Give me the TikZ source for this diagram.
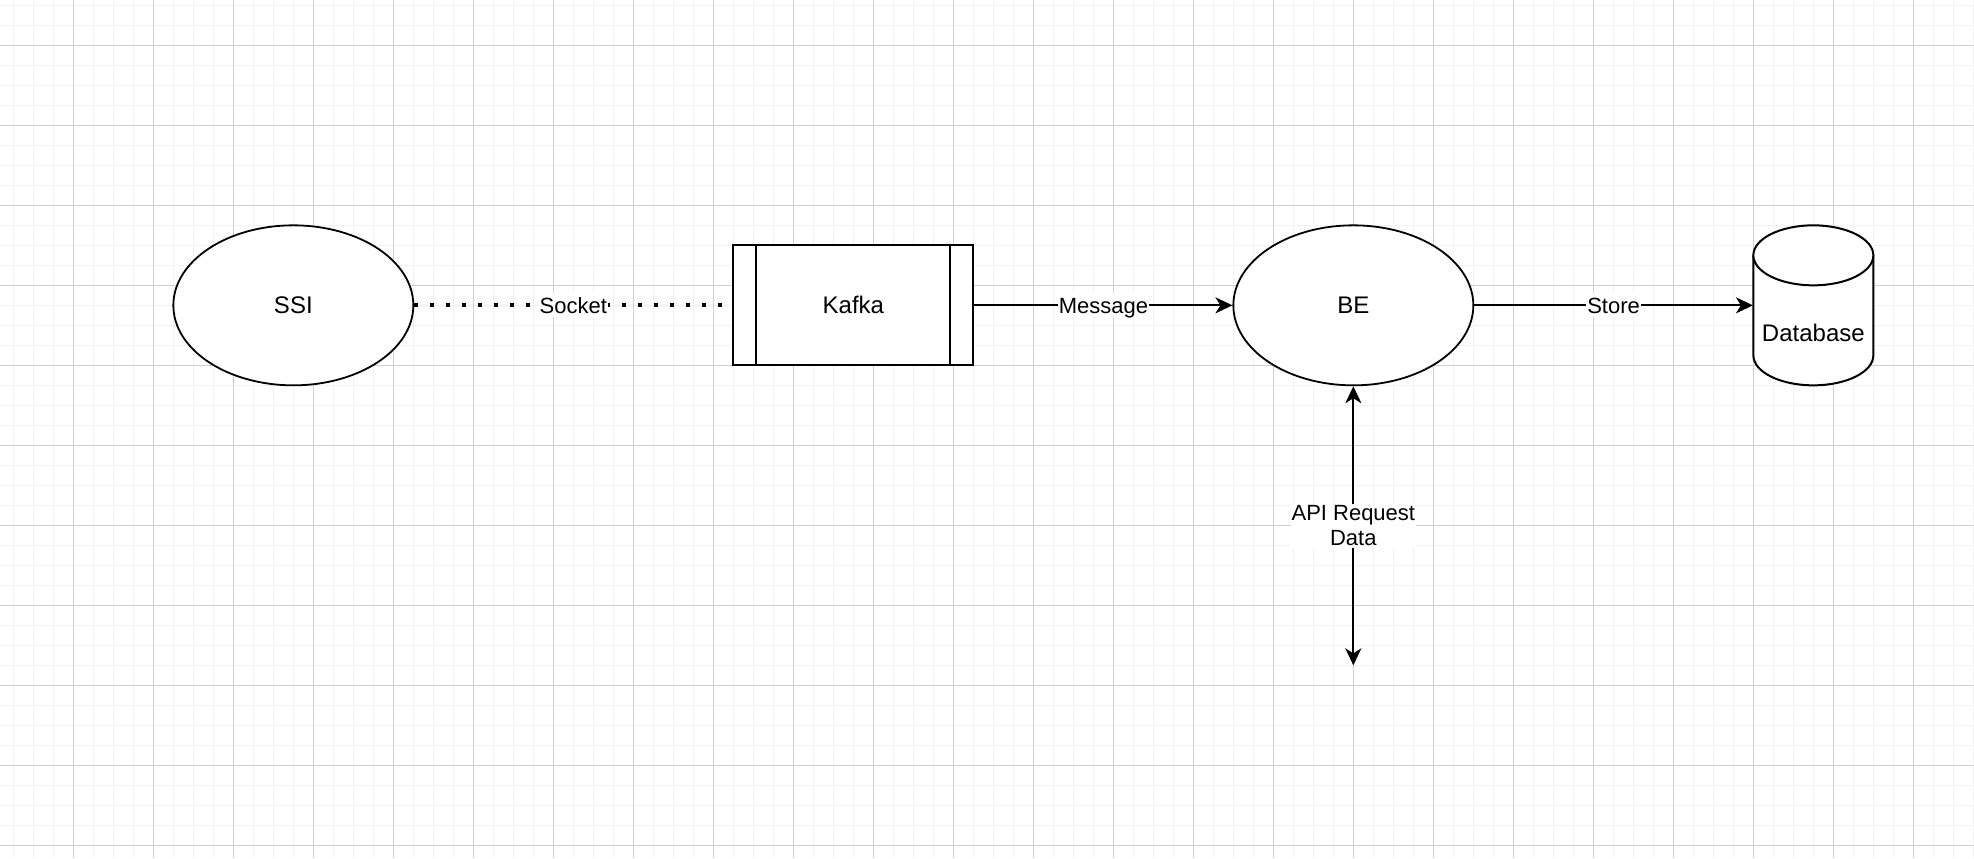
\documentclass[tikz,border=0pt]{standalone}
\usepackage{fontspec}
\setmainfont{Liberation Sans}
\usetikzlibrary{shapes.geometric,arrows.meta}
\definecolor{gridminor}{HTML}{F2F2F2}
\definecolor{gridmajor}{HTML}{D0D0D0}
\tikzset{
  minorline/.style={draw=gridminor, line width=0.8pt},
  majorline/.style={draw=gridmajor, line width=0.5pt},
  ellnode/.style={ellipse, draw, line width=0.9pt, fill=white, minimum width=120pt, minimum height=80pt, inner sep=0pt, font=\fontsize{12}{14}\selectfont},
  procnode/.style={rectangle, draw, line width=1pt, fill=white, minimum width=120pt, minimum height=60pt, inner sep=0pt, font=\fontsize{12}{14}\selectfont},
  dbbox/.style={rectangle, draw=none, minimum width=60pt, minimum height=80pt, inner sep=0pt},
  dbtext/.style={font=\fontsize{12}{14}\selectfont, inner sep=0pt, text height=8.6pt, text depth=0pt},
  conn/.style={draw, line width=1pt, -{Stealth[length=8.5pt, width=8pt, inset=2.5pt]}},
  biconn/.style={draw, line width=1pt, {Stealth[length=8.5pt, width=8pt, inset=2.5pt]}-{Stealth[length=8.5pt, width=8pt, inset=2.5pt]}},
  dotconn/.style={draw, line width=2pt, dash pattern=on 2pt off 6pt},
  elabel/.style={fill=white, inner xsep=0.5pt, inner ysep=2pt, text height=7.9pt, text depth=0pt, font=\fontsize{11}{12.5}\selectfont},
  mlabel/.style={fill=white, inner xsep=0.5pt, inner ysep=1pt, font=\fontsize{11}{12.5}\selectfont, align=center}
}
\begin{document}
\begin{tikzpicture}[x=0.5pt, y=-0.5pt]
\useasboundingbox (0,0) rectangle (1974,858);
\fill[white] (0,0) rectangle (1974,858);
% grid
\foreach \i in {0,...,98} \draw[minorline] ({13.33+20*\i},0) -- ({13.33+20*\i},858);
\foreach \j in {0,...,42} \draw[minorline] (0,{5.33+20*\j}) -- (1974,{5.33+20*\j});
\foreach \i in {0,...,23} \draw[majorline] ({73.33+80*\i},0) -- ({73.33+80*\i},858);
\foreach \j in {0,...,10} \draw[majorline] (0,{45.33+80*\j}) -- (1974,{45.33+80*\j});
% nodes
\node[ellnode] (ssi) at (293.33,305.33) {SSI};
\node[procnode] (kafka) at (853.33,305.33) {Kafka};
\draw[line width=1pt] ([xshift=12pt]kafka.north west) -- ([xshift=12pt]kafka.south west);
\draw[line width=1pt] ([xshift=-12pt]kafka.north east) -- ([xshift=-12pt]kafka.south east);
\node[ellnode] (be) at (1353.33,305.33) {BE};
\node[dbbox] (db) at (1813.33,305.33) {};
\fill[white] (1753.33,255.33) -- (1753.33,355.33) arc[start angle=180, end angle=360, x radius=30pt, y radius=15pt] -- (1873.33,255.33) -- cycle;
\draw[line width=1pt] (1753.33,255.33) -- (1753.33,355.33) arc[start angle=180, end angle=360, x radius=30pt, y radius=15pt] -- (1873.33,255.33);
\draw[line width=1pt, fill=white] (1813.33,255.33) ellipse[x radius=30pt, y radius=15pt];
\node[dbtext] (dblabel) at (1813.33,333) {Database};
\coordinate (apiend) at (1353.33,665.33);
% connectors
\draw[dotconn] (ssi) -- node[elabel] {Socket} (kafka);
\draw[conn] (kafka) -- node[elabel] {Message} (be);
\draw[conn] (be) -- node[elabel] {Store} (db);
\draw[biconn] (be) -- node[mlabel] {API Request\\Data} (apiend);
\end{tikzpicture}
\end{document}
